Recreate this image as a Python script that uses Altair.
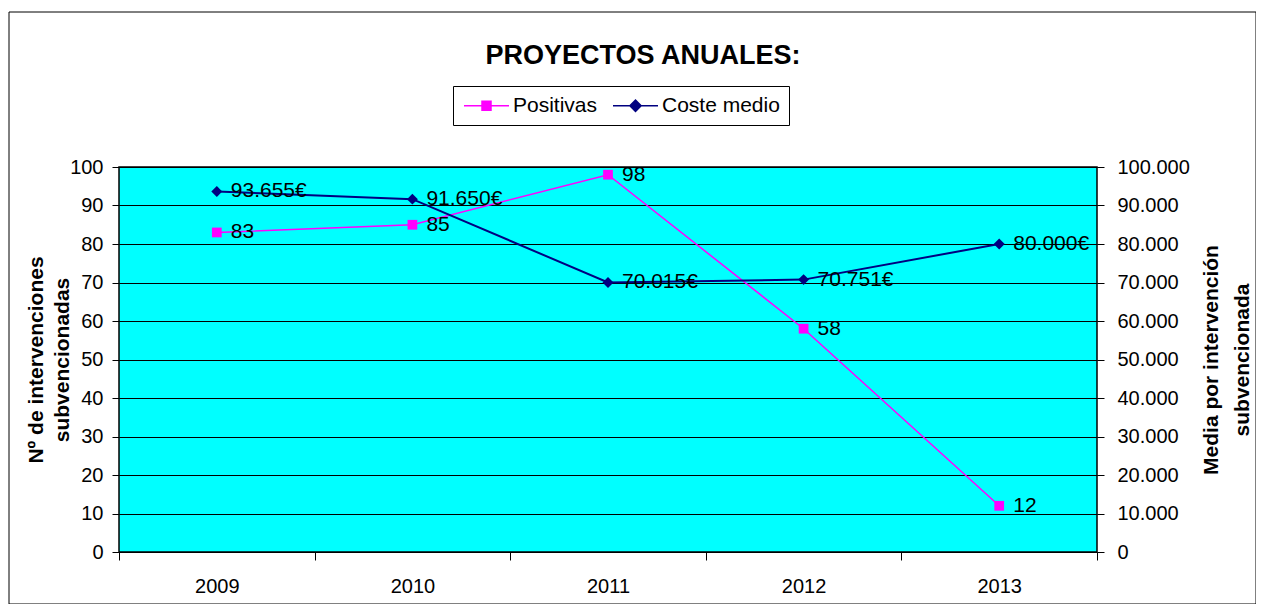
import altair as alt
import pandas as pd

years = ["2009", "2010", "2011", "2012", "2013"]
positivas = [83, 85, 98, 58, 12]
coste = [93655, 91650, 70015, 70751, 80000]
series = ["Positivas", "Coste medio"]
colors = ["#FF00FF", "#000080"]
left_ticks = [0, 10, 20, 30, 40, 50, 60, 70, 80, 90, 100]
right_ticks = [0, 10000, 20000, 30000, 40000, 50000, 60000, 70000, 80000, 90000, 100000]
title_text = ["PROYECTOS ANUALES:"]

FONT = "Liberation Sans"

df_p = pd.DataFrame({"year": years, "val": positivas,
                     "lbl": [str(v) for v in positivas]})
df_c = pd.DataFrame({"year": years, "val": coste,
                     "lbl": [f"{v:,}".replace(",", ".") + "€" for v in coste]})
df_leg = pd.DataFrame({"year": [years[0], years[0]], "serie": series})
df_box = pd.DataFrame({"k": [0]})
df_title = pd.DataFrame({"t": title_text})

x_enc = alt.X("year:O", bandPosition=0.5,
              scale=alt.Scale(type="band", paddingInner=0, paddingOuter=0),
              axis=alt.Axis(title=None, tickBand="extent", labelAngle=0, grid=False,
                            domain=False, tickSize=8, labelPadding=26,
                            labelBaseline="middle"))

y_left = alt.Y("val:Q", scale=alt.Scale(domain=[0, 100], nice=False, zero=True),
               axis=alt.Axis(orient="left", values=left_ticks, grid=True, gridColor="black",
                             gridWidth=1, domain=False, tickSize=7, labelPadding=9,
                             title=["Nº de intervenciones", "subvencionadas"],
                             titleAngle=270, titleX=-83, titleY=192.5,
                             titleAlign="center", titleBaseline="middle",
                             titleFontSize=21, titleFontWeight="bold", titleLineHeight=26))

y_right = alt.Y("val:Q", scale=alt.Scale(domain=[0, 100000], nice=False, zero=True),
                axis=alt.Axis(orient="right", values=right_ticks, grid=False, domain=False,
                              tickSize=7, labelPadding=13,
                              labelExpr="replace(format(datum.value, ','), ',', '.')",
                              title=["Media por intervención", "subvencionada"],
                              titleAngle=270, titleX=114, titleY=192.5,
                              titleAlign="center", titleBaseline="middle",
                              titleFontSize=21, titleFontWeight="bold", titleLineHeight=31))

lineP = alt.Chart(df_p).mark_line(color=colors[0], strokeWidth=1.5).encode(x=x_enc, y=y_left)
ptsP = alt.Chart(df_p).mark_point(shape="square", filled=True, size=95, color=colors[0],
                                  opacity=1).encode(x=x_enc, y=y_left)
txtP = alt.Chart(df_p).mark_text(align="left", baseline="middle", dx=14, fontSize=21,
                                 font=FONT, color="black").encode(x=x_enc, y=y_left, text="lbl:N")
left = alt.layer(lineP, ptsP, txtP)

lineC = alt.Chart(df_c).mark_line(color=colors[1], strokeWidth=2).encode(x=x_enc, y=y_right)
ptsC = alt.Chart(df_c).mark_point(shape="diamond", filled=True, size=120, color=colors[1],
                                  opacity=1).encode(x=x_enc, y=y_right)
txtC = alt.Chart(df_c).mark_text(align="left", baseline="middle", dx=14, fontSize=21,
                                 font=FONT, color="black").encode(x=x_enc, y=y_right, text="lbl:N")
right = alt.layer(lineC, ptsC, txtC)

shape_paths = ["M-3,0H3M-0.6,-0.6H0.6V0.6H-0.6Z",
               "M-3,0H3M-0.75,0L0,-0.75L0.75,0L0,0.75Z"]
leg = alt.Legend(title=None, orient="none", legendX=334, legendY=-81, direction="horizontal",
                 padding=9, strokeColor="black", fillColor="white", cornerRadius=0,
                 symbolSize=225, symbolOffset=14, labelOffset=16, columnPadding=12,
                 symbolOpacity=1, symbolStrokeWidth=1.5, labelFontSize=21, labelFont=FONT,
                 labelColor="black", labelLimit=400)
legend_layer = alt.Chart(df_leg).mark_point(filled=True, opacity=0, size=225).encode(
    x=x_enc,
    color=alt.Color("serie:N", scale=alt.Scale(domain=series, range=colors), legend=leg),
    stroke=alt.Stroke("serie:N", scale=alt.Scale(domain=series, range=colors), legend=leg),
    shape=alt.Shape("serie:N", scale=alt.Scale(domain=series, range=shape_paths), legend=leg),
)

border = alt.Chart(df_box).mark_rect(fillOpacity=0, stroke="black", strokeWidth=1).encode(
    x=alt.value(-110), x2=alt.value(1137), y=alt.value(-155), y2=alt.value(437))

title_layer = alt.Chart(df_title).mark_text(
    align="center", baseline="alphabetic", fontSize=27, fontWeight="bold", font=FONT,
    color="black").encode(x=alt.value(524), y=alt.value(-103), text="t:N")

chart = alt.layer(border, left, right, legend_layer, title_layer).resolve_scale(
    y="independent"
).properties(
    width=978, height=385,
    autosize=alt.AutoSizeParams(type="none"),
    padding={"left": 111, "top": 159, "right": 159, "bottom": 52},
).configure(background="white").configure_view(
    fill="#00FFFF", stroke="black", strokeWidth=1.5
).configure_axis(
    labelFont=FONT, labelFontSize=20, labelColor="black", tickColor="black",
    titleFont=FONT, titleColor="black", tickWidth=1
)

chart.save("out.html", embed_options={"renderer": "svg", "actions": False})
